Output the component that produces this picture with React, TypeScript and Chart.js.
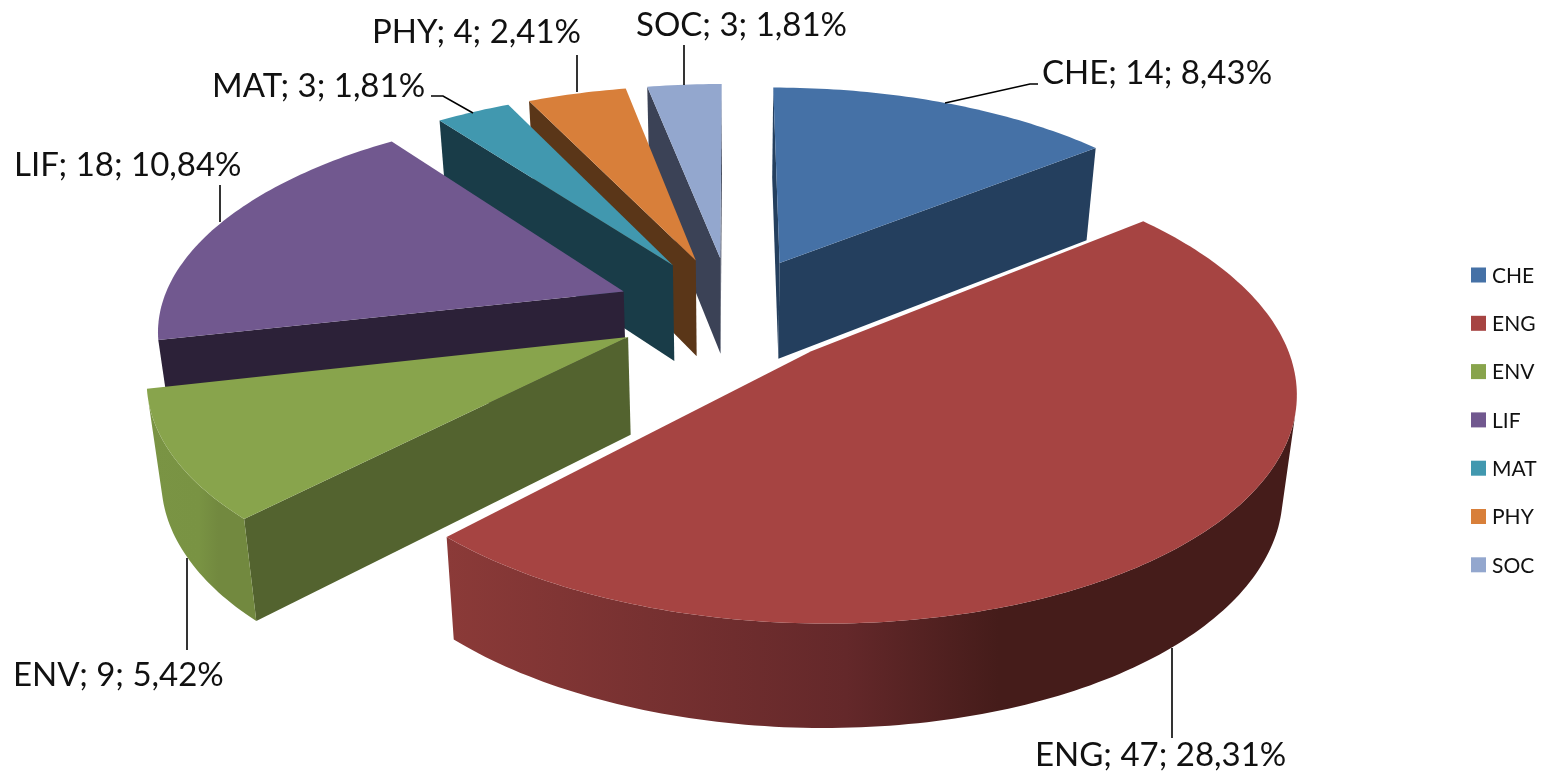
import React, { useEffect, useRef } from "react";
import { Chart, registerables } from "chart.js";

Chart.register(...registerables);

// ---- data ----
const categories = ["CHE", "ENG", "ENV", "LIF", "MAT", "PHY", "SOC"];
const counts = [14, 47, 9, 18, 3, 4, 3];
const percents = [8.43, 28.31, 5.42, 10.84, 1.81, 2.41, 1.81];

// ---- styles ----
const topColors = ["#4571A6", "#A64442", "#88A44C", "#71588F", "#4198AF", "#D87F3A", "#93A7CE"];
const wallColors = ["#243F5E", "#451C1A", "#53632F", "#2C2138", "#193C48", "#5A3618", "#3B4256"];
const rimStops: [string, string, string][] = [
  ["#243F5E", "#243F5E", "#243F5E"],
  ["#8B3A38", "#64282A", "#451C1A"],
  ["#7A9444", "#799343", "#72893F"],
  ["#3A2C4C", "#3A2C4C", "#3A2C4C"],
  ["#193C48", "#193C48", "#193C48"],
  ["#5A3618", "#5A3618", "#5A3618"],
  ["#3B4256", "#3B4256", "#3B4256"],
];
const FONT = "Lato, 'Open Sans', sans-serif";

// ---- the 3-D view of the pie ----
const view = {
  x0: 731, y0: 310, scaleX: 463.5, scaleY: 216, persp: 0.155,
  explode: 0.25, depth: 97, depthPersp: 0.06, taper: 0.975,
};

// ---- label layout: text position and leader line per category ----
const labelX = [1042, 1035, 13, 14, 212, 372, 636];
const labelY = [73, 755, 675, 165, 86, 32, 25];
const leaders: number[][][] = [
  [[945, 103], [1030, 84], [1038, 84]],
  [[1172, 648], [1172, 738]],
  [[187, 558], [187, 650]],
  [[220, 222], [220, 185]],
  [[473, 113], [443, 96], [431, 96]],
  [[577, 92], [577, 55]],
  [[684, 85], [684, 45]],
];

// ---- legend layout ----
const legendBoxX = 1471;
const legendTextX = 1492;
const legendTop = 275;
const legendStep = 48.3;
const legendBox = 15;

type P = [number, number];

function project(X: number, Y: number, bottom: boolean): P {
  const w = 1 + view.persp * Y;
  let x = view.x0 + (view.scaleX * X) / w;
  let y = view.y0 - (view.scaleY * Y) / w;
  if (bottom) {
    x = view.x0 + (x - view.x0) * view.taper;
    y += view.depth / (1 + view.depthPersp * Y);
  }
  return [x, y];
}

function fillPoly(ctx: CanvasRenderingContext2D, pts: P[], fill: string | CanvasGradient) {
  ctx.beginPath();
  pts.forEach((p, i) => (i ? ctx.lineTo(p[0], p[1]) : ctx.moveTo(p[0], p[1])));
  ctx.closePath();
  ctx.fillStyle = fill;
  ctx.fill();
}

function area(pts: P[]) {
  let s = 0;
  pts.forEach((p, i) => {
    const q = pts[(i + 1) % pts.length];
    s += p[0] * q[1] - q[0] * p[1];
  });
  return s / 2;
}

const pie3d = {
  id: "pie3d",
  beforeDatasetsDraw(chart: any) {
    const ctx: CanvasRenderingContext2D = chart.ctx;
    const arcs = chart.getDatasetMeta(0).data;
    const slices = arcs.map((arc: any, i: number) => {
      const a0 = arc.startAngle + Math.PI / 2;
      const a1 = arc.endAngle + Math.PI / 2;
      const mid = (a0 + a1) / 2;
      const ox = view.explode * Math.sin(mid);
      const oy = view.explode * Math.cos(mid);
      const plane: [number, number][] = [];
      const steps = Math.max(8, Math.ceil(((a1 - a0) * 180) / Math.PI));
      for (let s = 0; s <= steps; s++) {
        const a = a0 + ((a1 - a0) * s) / steps;
        plane.push([ox + Math.sin(a), oy + Math.cos(a)]);
      }
      return { i, ox, oy, plane, order: Math.cos(mid) };
    });
    slices.sort((a: any, b: any) => b.order - a.order);

    const quad = (a: [number, number], b: [number, number]): P[] => [
      project(a[0], a[1], false),
      project(b[0], b[1], false),
      project(b[0], b[1], true),
      project(a[0], a[1], true),
    ];

    for (const s of slices) {
      const apex: [number, number] = [s.ox, s.oy];
      const first = s.plane[0];
      const last = s.plane[s.plane.length - 1];
      for (const q of [quad(apex, first), quad(last, apex)]) {
        if (area(q) < 0) fillPoly(ctx, q, wallColors[s.i]);
      }
      const front: number[] = [];
      for (let k = 0; k < s.plane.length - 1; k++) {
        if (area(quad(s.plane[k], s.plane[k + 1])) < -0.01) front.push(k);
      }
      if (front.length) {
        const from = front[0];
        const to = front[front.length - 1] + 1;
        const run = s.plane.slice(from, to + 1);
        const rim: P[] = [
          ...run.map((p: number[]) => project(p[0], p[1], false)),
          ...run.slice().reverse().map((p: number[]) => project(p[0], p[1], true)),
        ];
        const xs = rim.map((p) => p[0]);
        const left = Math.min(...xs);
        const right = Math.max(...xs);
        const g = ctx.createLinearGradient(left, 0, right, 0);
        g.addColorStop(0, rimStops[s.i][0]);
        g.addColorStop(0.47, rimStops[s.i][1]);
        g.addColorStop(0.65, rimStops[s.i][2]);
        g.addColorStop(1, rimStops[s.i][2]);
        fillPoly(ctx, rim, g);
      }
      const top: P[] = [
        project(apex[0], apex[1], false),
        ...s.plane.map((p: number[]) => project(p[0], p[1], false)),
      ];
      fillPoly(ctx, top, topColors[s.i]);
    }

    // leader lines and data labels
    ctx.strokeStyle = "#000";
    ctx.lineWidth = 1.6;
    ctx.fillStyle = "#111";
    ctx.font = `33px ${FONT}`;
    ctx.textBaseline = "middle";
    ctx.textAlign = "left";
    categories.forEach((c, i) => {
      ctx.beginPath();
      leaders[i].forEach((p, k) => (k ? ctx.lineTo(p[0], p[1]) : ctx.moveTo(p[0], p[1])));
      ctx.stroke();
      const pct = percents[i].toFixed(2).replace(".", ",");
      ctx.fillText(`${c}; ${counts[i]}; ${pct}%`, labelX[i], labelY[i]);
    });

    // legend
    ctx.font = `21px ${FONT}`;
    categories.forEach((c, i) => {
      const y = legendTop + legendStep * i;
      ctx.fillStyle = topColors[i];
      ctx.fillRect(legendBoxX, y - legendBox / 2, legendBox, legendBox);
      ctx.fillStyle = "#111";
      ctx.fillText(c, legendTextX, y + 1);
    });
    return false;
  },
};

export default function App() {
  const ref = useRef<HTMLCanvasElement>(null);
  useEffect(() => {
    const chart = new Chart(ref.current as HTMLCanvasElement, {
      type: "pie",
      data: {
        labels: categories,
        datasets: [{ data: counts, backgroundColor: topColors, borderWidth: 0 }],
      },
      options: {
        responsive: false,
        animation: false,
        rotation: 0,
        plugins: { legend: { display: false }, tooltip: { enabled: false } },
      },
      plugins: [pie3d],
    } as any);
    return () => chart.destroy();
  }, []);
  return (
    <div style={{ position: "absolute", left: 0, top: 0, width: 1553, height: 773, background: "#fff" }}>
      <canvas ref={ref} width={1553} height={773} style={{ display: "block" }} />
    </div>
  );
}
